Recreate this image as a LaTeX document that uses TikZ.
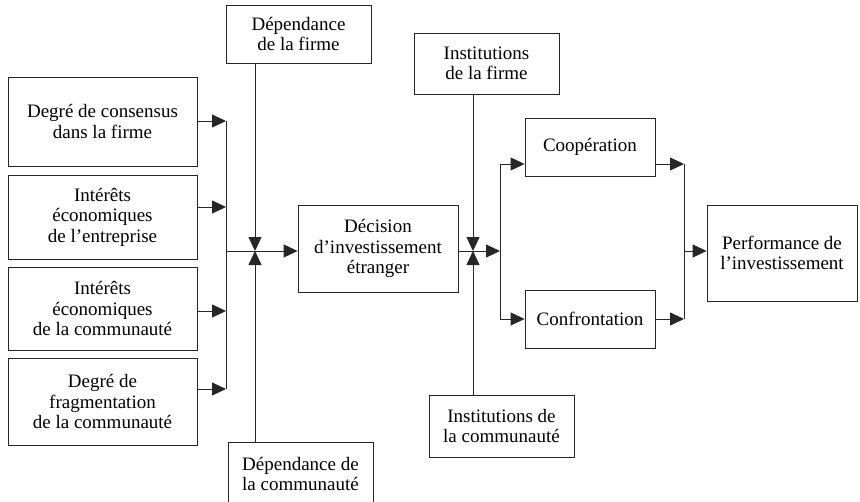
\documentclass[tikz,border=0pt]{standalone}
\usepackage{fontspec}
\setmainfont{Liberation Serif}
\usetikzlibrary{arrows.meta}

\tikzset{
  box/.style={draw=black!85, line width=0.85pt, align=center, inner sep=0pt,
    text=black, font=\fontsize{19}{20.5}\selectfont},
  link/.style={draw=black!85, line width=0.85pt},
  arr/.style={link, -{Triangle[length=14pt,width=13pt]}}
}

\begin{document}
\begin{tikzpicture}[x=1pt,y=-1pt]
\clip (0,0) rectangle (860,501);
\fill[white] (0,0) rectangle (860,501);

% determinants on the left
\node[box, minimum width=189pt, minimum height=89pt] (l1) at (102.5,121.5) {Degré de consensus\\dans la firme};
\node[box, minimum width=189pt, minimum height=84pt] (l2) at (102.5,217) {Intérêts\\économiques\\de l’entreprise};
\node[box, minimum width=189pt, minimum height=83pt] (l3) at (102.5,308.5) {Intérêts\\économiques\\de la communauté};
\node[box, minimum width=189pt, minimum height=87pt] (l4) at (102.5,401.5) {Degré de\\fragmentation\\de la communauté};

% moderators of the decision
\node[box, minimum width=145pt, minimum height=58pt] (dfirm) at (298.5,34) {Dépendance\\de la firme};
\node[box, minimum width=145pt, minimum height=64pt] (dcomm) at (300.5,474) {Dépendance de\\la communauté};

% decision
\node[box, minimum width=160pt, minimum height=87pt] (dec) at (378,248.5) {Décision\\d’investissement\\étranger};

% institutions
\node[box, minimum width=145pt, minimum height=61pt] (ifirm) at (486.5,63.5) {Institutions\\de la firme};
\node[box, minimum width=145pt, minimum height=62pt] (icomm) at (501.5,426) {Institutions de\\la communauté};

% outcomes
\node[box, minimum width=130pt, minimum height=58pt] (coop) at (590,147) {Coopération};
\node[box, minimum width=130pt, minimum height=58pt] (conf) at (590,319) {Confrontation};
\node[box, minimum width=150pt, minimum height=96pt] (perf) at (782,253) {Performance de\\l’investissement};

% left collector
\coordinate (cA) at (226,121);
\coordinate (cB) at (226,207);
\coordinate (cC) at (226,311);
\coordinate (cD) at (226,389);
\coordinate (cJ) at (226,251);
\coordinate (jL) at (255,251);

\draw[arr] (l1.east |- cA) -- (cA);
\draw[arr] (l2.east |- cB) -- (cB);
\draw[arr] (l3.east |- cC) -- (cC);
\draw[arr] (l4.east |- cD) -- (cD);
\draw[link] (cA) -- (cD);
\draw[arr] (cJ) -- (dec.west |- cJ);
\draw[arr] (dfirm.south -| jL) -- (jL);
\draw[arr] (dcomm.north -| jL) -- (jL);

% right branching
\coordinate (jR) at (473,251);
\coordinate (bJ) at (500,251);
\coordinate (bT) at (500,164);
\coordinate (bB) at (500,319);

\draw[arr] (dec.east |- jR) -- (bJ);
\draw[arr] (ifirm.south -| jR) -- (jR);
\draw[arr] (icomm.north -| jR) -- (jR);
\draw[link] (bT) -- (bB);
\draw[arr] (bT) -- (coop.west |- bT);
\draw[arr] (bB) -- (conf.west |- bB);

% right collector
\coordinate (rT) at (684,164);
\coordinate (rB) at (684,319);
\coordinate (rJ) at (684,251);

\draw[arr] (coop.east |- rT) -- (rT);
\draw[arr] (conf.east |- rB) -- (rB);
\draw[link] (rT) -- (rB);
\draw[arr] (rJ) -- (perf.west |- rJ);
\end{tikzpicture}
\end{document}
